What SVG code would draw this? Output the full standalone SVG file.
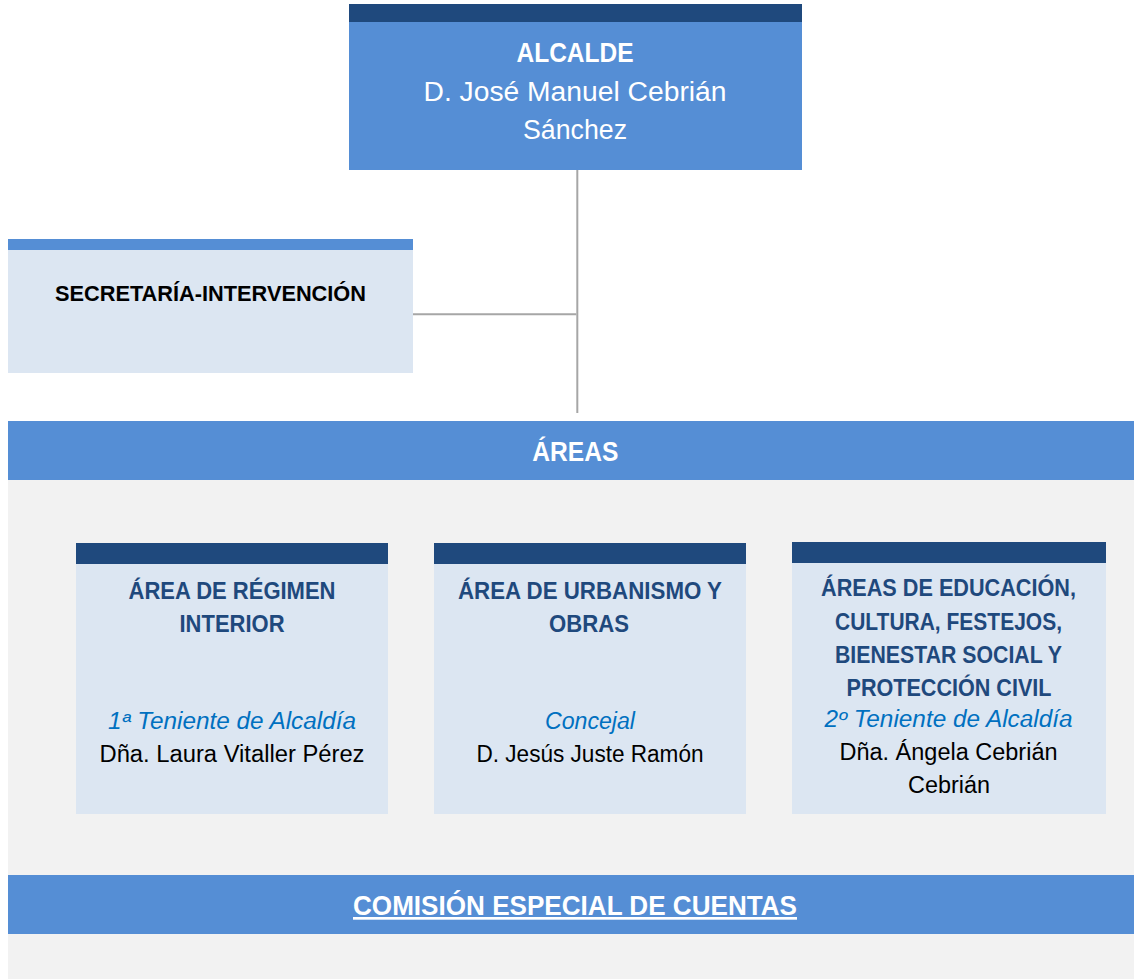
<svg xmlns="http://www.w3.org/2000/svg" width="1134" height="979" viewBox="0 0 1134 979">
  <style>
    text { font-family: "Liberation Sans", Arial, sans-serif; text-anchor: middle; }
    .dark { fill: #1F497D; }
    .blue { fill: #558ED5; }
    .light { fill: #DCE6F2; }
    .bg { fill: #F2F2F2; }
    .conn { stroke: #A6A6A6; stroke-width: 2; fill: none; }
    .w { fill: #FFFFFF; }
    .wb { fill: #FFFFFF; font-weight: bold; font-size: 27px; }
    .title { fill: #1F497D; font-weight: bold; font-size: 23px; }
    .role { fill: #0070C0; font-style: italic; font-size: 23px; }
    .name { fill: #000000; font-size: 23px; }
  </style>
  <rect x="0" y="0" width="1134" height="979" fill="#FFFFFF"/>

  <g id="connectors">
    <line class="conn" x1="577.3" y1="170" x2="577.3" y2="413"/>
    <line class="conn" x1="413" y1="314.3" x2="576.3" y2="314.3"/>
  </g>

  <g id="alcalde">
    <rect class="blue" x="349" y="22" width="453" height="148"/>
    <rect class="dark" x="349" y="4" width="453" height="18"/>
    <text class="wb" x="575" y="62" textLength="117" lengthAdjust="spacingAndGlyphs">ALCALDE</text>
    <text class="w" x="575" y="100.5" font-size="27" textLength="303" lengthAdjust="spacingAndGlyphs">D. José Manuel Cebrián</text>
    <text class="w" x="575" y="139" font-size="27" textLength="104" lengthAdjust="spacingAndGlyphs">Sánchez</text>
  </g>

  <g id="secretaria">
    <rect class="light" x="8" y="250" width="405" height="123"/>
    <rect class="blue" x="8" y="239" width="405" height="11"/>
    <text x="210.5" y="301" font-size="22.5" font-weight="bold" fill="#000000" textLength="311" lengthAdjust="spacingAndGlyphs">SECRETARÍA-INTERVENCIÓN</text>
  </g>

  <g id="areas">
    <rect class="bg" x="8" y="480" width="1126" height="395"/>
    <rect class="blue" x="8" y="421" width="1126" height="59"/>
    <text class="wb" x="575.3" y="461" textLength="86" lengthAdjust="spacingAndGlyphs">ÁREAS</text>
  </g>

  <g id="area-regimen-interior">
    <rect class="light" x="76" y="564" width="312" height="250"/>
    <rect class="dark" x="76" y="543" width="312" height="21"/>
    <text class="title" x="232" y="599" textLength="207" lengthAdjust="spacingAndGlyphs">ÁREA DE RÉGIMEN</text>
    <text class="title" x="232" y="631.5" textLength="105" lengthAdjust="spacingAndGlyphs">INTERIOR</text>
    <text class="role" x="232" y="729" textLength="248" lengthAdjust="spacingAndGlyphs">1ª Teniente de Alcaldía</text>
    <text class="name" x="232" y="762" textLength="265" lengthAdjust="spacingAndGlyphs">Dña. Laura Vitaller Pérez</text>
  </g>

  <g id="area-urbanismo">
    <rect class="light" x="434" y="564" width="312" height="250"/>
    <rect class="dark" x="434" y="543" width="312" height="21"/>
    <text class="title" x="590" y="599" textLength="264" lengthAdjust="spacingAndGlyphs">ÁREA DE URBANISMO Y</text>
    <text class="title" x="589" y="631.5" textLength="80" lengthAdjust="spacingAndGlyphs">OBRAS</text>
    <text class="role" x="590" y="729" textLength="90" lengthAdjust="spacingAndGlyphs">Concejal</text>
    <text class="name" x="590" y="762" textLength="227" lengthAdjust="spacingAndGlyphs">D. Jesús Juste Ramón</text>
  </g>

  <g id="area-educacion">
    <rect class="light" x="792" y="563" width="314" height="251"/>
    <rect class="dark" x="792" y="542" width="314" height="21"/>
    <text class="title" x="948.5" y="596" textLength="255" lengthAdjust="spacingAndGlyphs">ÁREAS DE EDUCACIÓN,</text>
    <text class="title" x="948.5" y="629.5" textLength="227" lengthAdjust="spacingAndGlyphs">CULTURA, FESTEJOS,</text>
    <text class="title" x="948.5" y="662.5" textLength="227" lengthAdjust="spacingAndGlyphs">BIENESTAR SOCIAL Y</text>
    <text class="title" x="949" y="696" textLength="205" lengthAdjust="spacingAndGlyphs">PROTECCIÓN CIVIL</text>
    <text class="role" x="948.5" y="727" textLength="248" lengthAdjust="spacingAndGlyphs">2º Teniente de Alcaldía</text>
    <text class="name" x="948.5" y="760" textLength="218" lengthAdjust="spacingAndGlyphs">Dña. Ángela Cebrián</text>
    <text class="name" x="949" y="793" textLength="82" lengthAdjust="spacingAndGlyphs">Cebrián</text>
  </g>

  <g id="comision">
    <rect class="bg" x="8" y="934" width="1126" height="45"/>
    <rect class="blue" x="8" y="875" width="1126" height="59"/>
    <text class="wb" x="575" y="915" text-decoration="underline" textLength="444" lengthAdjust="spacingAndGlyphs">COMISIÓN ESPECIAL DE CUENTAS</text>
  </g>
</svg>
